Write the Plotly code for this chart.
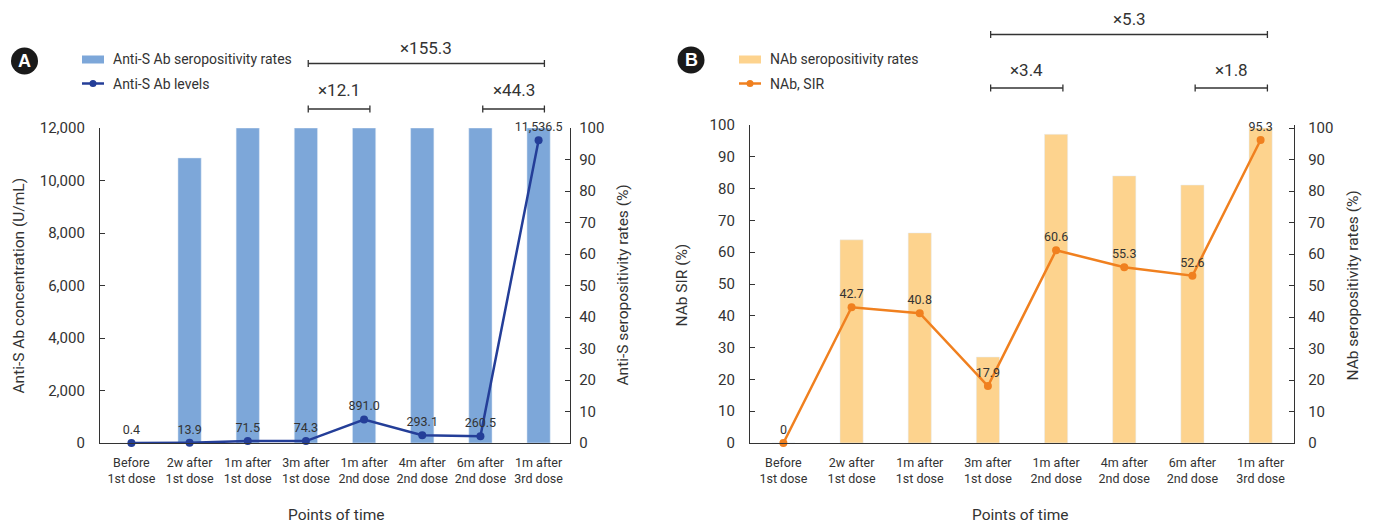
import plotly.graph_objects as go

# ---------------- data ----------------
categories = ["Before<br>1st dose", "2w after<br>1st dose", "1m after<br>1st dose", "3m after<br>1st dose",
              "1m after<br>2nd dose", "4m after<br>2nd dose", "6m after<br>2nd dose", "1m after<br>3rd dose"]
anti_s_rates = [0, 90.5, 100, 100, 100, 100, 100, 100]
anti_s_levels = [0.4, 13.9, 71.5, 74.3, 891.0, 293.1, 260.5, 11536.5]
nab_rates = [0, 64.5, 66.7, 27.3, 98.0, 84.8, 81.9, 100]
nab_sir = [0, 42.7, 40.8, 17.9, 60.6, 55.3, 52.6, 95.3]
conc_ticks = [0, 2000, 4000, 6000, 8000, 10000, 12000]
pct_ticks = [0, 10, 20, 30, 40, 50, 60, 70, 80, 90, 100]
fold_a = [(3, 7, "×155.3"), (3, 4, "×12.1"), (6, 7, "×44.3")]
fold_b = [(3, 7, "×5.3"), (3, 4, "×3.4"), (6, 7, "×1.8")]

# ---------------- styling ----------------
W, H = 1373, 526
FONT = "Roboto, Liberation Sans, Arial, sans-serif"
TXT = "#333333"
BLUE_BAR = "#7DA7D9"
BLUE_LINE = "#243E98"
ORANGE_BAR = "#FDD38E"
ORANGE_LINE = "#F0801F"


def px(x):
    return x / W


def py(y):
    return 1 - y / H


idx = list(range(len(categories)))
text_a = [f"{v:,.1f}" for v in anti_s_levels]
text_b = ["0" if v == 0 else f"{v:.1f}" for v in nab_sir]

fig = go.Figure()
fig.add_trace(go.Bar(x=idx, y=anti_s_rates, width=0.4, marker_color=BLUE_BAR,
                     xaxis="x", yaxis="y", name="Anti-S Ab seropositivity rates"))
fig.add_trace(go.Scatter(x=idx, y=anti_s_levels, mode="lines+markers+text", text=text_a,
                         textposition="top center", cliponaxis=False,
                         textfont=dict(family=FONT, size=12.5, color=TXT),
                         line=dict(color=BLUE_LINE, width=2.5), marker=dict(size=8, color=BLUE_LINE),
                         xaxis="x", yaxis="y2", name="Anti-S Ab levels"))
fig.add_trace(go.Bar(x=idx, y=nab_rates, width=0.34, marker_color=ORANGE_BAR,
                     xaxis="x2", yaxis="y3", name="NAb seropositivity rates"))
fig.add_trace(go.Scatter(x=idx, y=nab_sir, mode="lines+markers+text", text=text_b,
                         textposition="top center", cliponaxis=False,
                         textfont=dict(family=FONT, size=12.5, color=TXT),
                         line=dict(color=ORANGE_LINE, width=2.5), marker=dict(size=8, color=ORANGE_LINE),
                         xaxis="x2", yaxis="y4", name="NAb, SIR"))

tickfont = dict(family=FONT, size=15, color=TXT)
xtickfont = dict(family=FONT, size=12.5, color=TXT)
axcommon = dict(showline=True, linecolor=TXT, linewidth=1.3, showgrid=False, zeroline=False,
                ticks="inside", ticklen=5, tickwidth=1.3, tickcolor=TXT, tickfont=tickfont)
ydom_a = [py(443), py(128)]
ydom_b = [py(443), py(125)]
xcommon = dict(tickvals=idx, ticktext=categories, showline=True, linecolor=TXT, linewidth=1.3,
               showgrid=False, zeroline=False, ticks="", tickfont=xtickfont, tickangle=0,
               ticklabelstandoff=8)

fig.update_layout(
    width=W, height=H, margin=dict(l=0, r=0, t=0, b=0, autoexpand=False),
    paper_bgcolor="white", plot_bgcolor="white", showlegend=False,
    font=dict(family=FONT, color=TXT),
    xaxis=dict(domain=[px(100), px(570)], range=[-0.54, 7.54], anchor="y", **xcommon),
    yaxis=dict(domain=ydom_a, range=[0, 100], side="right", anchor="x", tickvals=pct_ticks,
               ticklabelstandoff=5, **axcommon),
    yaxis2=dict(range=[0, 12000], side="left", overlaying="y", anchor="x", tickvals=conc_ticks,
                tickformat=",d", ticklabelstandoff=11, **axcommon),
    xaxis2=dict(domain=[px(750), px(1294)], range=[-0.49, 7.49], anchor="y3", **xcommon),
    yaxis3=dict(domain=ydom_b, range=[0, 100 * 318 / 315], side="right", anchor="x2", tickvals=pct_ticks,
                ticklabelstandoff=10, **axcommon),
    yaxis4=dict(range=[0, 100], side="left", overlaying="y3", anchor="x2", tickvals=pct_ticks,
                ticklabelstandoff=11, **axcommon),
)

shapes = []
annotations = []

# axis titles
title_font = dict(family=FONT, size=15.5, color=TXT)
for x, t in [(18, "Anti-S Ab concentration (U/mL)"), (622, "Anti-S seropositivity rates (%)"),
             (681, "NAb SIR (%)"), (1352, "NAb seropositivity rates (%)")]:
    annotations.append(dict(x=px(x), y=py(285.5), xref="paper", yref="paper", text=t, textangle=-90,
                            showarrow=False, font=title_font, xanchor="center", yanchor="middle"))
for x in (336, 1020):
    annotations.append(dict(x=px(x), y=py(515), xref="paper", yref="paper", text="Points of time",
                            showarrow=False, font=title_font, xanchor="center", yanchor="middle"))

# panel letters
for cx, cy, letter in [(24.5, 61, "A"), (691, 60, "B")]:
    r = 13.5
    shapes.append(dict(type="circle", xref="paper", yref="paper", x0=px(cx - r), x1=px(cx + r),
                       y0=py(cy + r), y1=py(cy - r), fillcolor="#1a1a1a", line=dict(width=0)))
    annotations.append(dict(x=px(cx), y=py(cy), xref="paper", yref="paper", text=f"<b>{letter}</b>",
                            showarrow=False, font=dict(family="Liberation Sans, Arial, sans-serif",
                                                       size=18, color="white"),
                            xanchor="center", yanchor="middle"))

# legends (manual)
leg_font = dict(family=FONT, size=14, color=TXT)
for x0, bar_col, line_col, t1, t2 in [(82, BLUE_BAR, BLUE_LINE, "Anti-S Ab seropositivity rates", "Anti-S Ab levels"),
                                       (739, ORANGE_BAR, ORANGE_LINE, "NAb seropositivity rates", "NAb, SIR")]:
    shapes.append(dict(type="rect", xref="paper", yref="paper", x0=px(x0), x1=px(x0 + 22),
                       y0=py(63.5), y1=py(55.5), fillcolor=bar_col, line=dict(width=0)))
    shapes.append(dict(type="line", xref="paper", yref="paper", x0=px(x0), x1=px(x0 + 22),
                       y0=py(83.5), y1=py(83.5), line=dict(color=line_col, width=2.5)))
    shapes.append(dict(type="circle", xref="paper", yref="paper", x0=px(x0 + 11 - 3.5), x1=px(x0 + 11 + 3.5),
                       y0=py(83.5 + 3.5), y1=py(83.5 - 3.5), fillcolor=line_col, line=dict(width=0)))
    annotations.append(dict(x=px(x0 + 29), y=py(59.5), xref="paper", yref="paper", text=t1, showarrow=False,
                            font=leg_font, xanchor="left", yanchor="middle"))
    annotations.append(dict(x=px(x0 + 29), y=py(83.5), xref="paper", yref="paper", text=t2, showarrow=False,
                            font=leg_font, xanchor="left", yanchor="middle"))

# fold-change brackets
br_font = dict(family=FONT, size=17, color=TXT)


def bracket(xref, i0, i1, label, ybar, ytext):
    x0, x1 = i0 + 0.04, i1 + 0.1
    line = dict(color=TXT, width=1.3)
    shapes.append(dict(type="line", xref=xref, yref="paper", x0=x0, x1=x1, y0=py(ybar), y1=py(ybar), line=line))
    for xx in (x0, x1):
        shapes.append(dict(type="line", xref=xref, yref="paper", x0=xx, x1=xx, y0=py(ybar - 3.5),
                           y1=py(ybar + 3.5), line=line))
    annotations.append(dict(x=(x0 + x1) / 2, y=py(ytext), xref=xref, yref="paper", text=label,
                            showarrow=False, font=br_font, xanchor="center", yanchor="middle"))


levels_a = [(63.5, 48), (109, 90), (109, 90)]
levels_b = [(34.5, 19), (88, 70), (88, 70)]
for (i0, i1, lab), (yb, yt) in zip(fold_a, levels_a):
    bracket("x", i0, i1, lab, yb, yt)
for (i0, i1, lab), (yb, yt) in zip(fold_b, levels_b):
    bracket("x2", i0, i1, lab, yb, yt)

fig.update_layout(shapes=shapes, annotations=annotations)
fig.write_html("out.html", config={"displayModeBar": False},
               post_script="document.body.style.margin='0';document.body.style.overflow='hidden';")
